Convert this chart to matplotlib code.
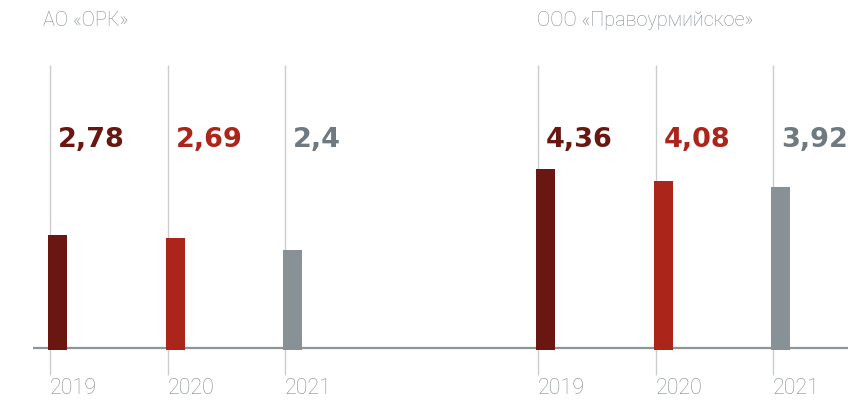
import matplotlib
matplotlib.use("Agg")
import matplotlib.pyplot as plt

companies = ["АО «ОРК»", "ООО «Правоурмийское»"]
years = ["2019", "2020", "2021"]
values = [[2.78, 2.69, 2.40], [4.36, 4.08, 3.92]]
labels = [["2,78", "2,69", "2,4"], ["4,36", "4,08", "3,92"]]

bar_colors = ["#6a1711", "#ab251b", "#889195"]
text_colors = ["#6a1711", "#ab251b", "#6f7a80"]
grey_text = "#838c91"

W, H = 867, 403
fig = plt.figure(figsize=(W / 100, H / 100), dpi=100)
ax = fig.add_axes([0, 0, 1, 1])
ax.set_axis_off()

unit_x = 117.5   # px per category step
unit_y = 41.5    # px per value unit
x0_px = 50       # pixel of first line
base_px = 348    # pixel (from top) of baseline
ax.set_xlim(-x0_px / unit_x, (W - x0_px) / unit_x)
ax.set_ylim(-(H - base_px) / unit_y, base_px / unit_y)

group_offset = 488 / unit_x
bar_w = 19 / unit_x
bar_shift = -2 / unit_x
lab_shift = 8 / unit_x
line_top = (base_px - 65) / unit_y
line_bot = (base_px - 375) / unit_y
label_y = (base_px - 140) / unit_y
year_y = (base_px - 389) / unit_y
title_y = (base_px - 21) / unit_y

for g, comp in enumerate(companies):
    gx = g * group_offset
    ax.text(gx - (7 if g == 0 else 1) / unit_x, title_y, comp, ha="left", va="center",
            fontsize=14.3, color=grey_text, family="Roboto", fontweight="light")
    for i, yr in enumerate(years):
        x = gx + i
        ax.plot([x, x], [line_bot, line_top], color="#c9cdd0", lw=1.0, zorder=1,
                solid_capstyle="butt")
        ax.bar(x + bar_shift, values[g][i], width=bar_w, bottom=-0.05, align="edge",
               color=bar_colors[i], zorder=3)
        ax.text(x + lab_shift, label_y, labels[g][i], ha="left", va="center",
                fontsize=19.5, fontweight="bold", family="DejaVu Sans",
                color=text_colors[i])
        ax.text(x, year_y, yr, ha="left", va="center", fontsize=15.5,
                color=grey_text, family="Roboto", fontweight="light")

ax.plot([(33 - x0_px) / unit_x, (848 - x0_px) / unit_x], [0, 0], color="#8d9599",
        lw=1.6, zorder=2, solid_capstyle="butt")

fig.savefig("out.png", dpi=100)
